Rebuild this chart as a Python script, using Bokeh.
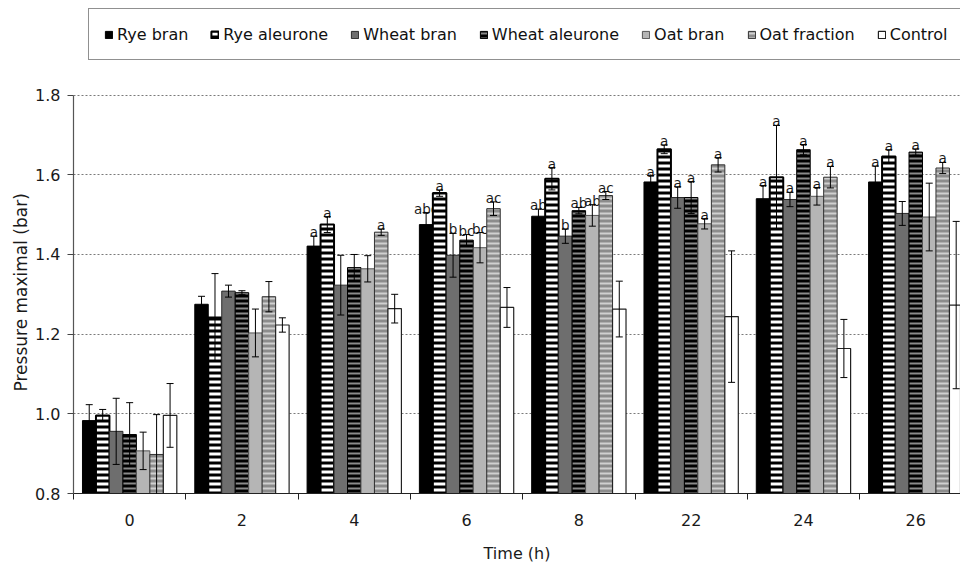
from bokeh.plotting import figure
from bokeh.models import (ColumnDataSource, Range1d, FixedTicker, Whisker, TeeHead,
                          Legend, LegendItem, PrintfTickFormatter, Title)
from bokeh.embed import file_html
from bokeh.resources import INLINE
from bokeh.core.properties import value

# ---------------- data ----------------
times = ["0", "2", "4", "6", "8", "22", "24", "26"]
series_names = ["Rye bran", "Rye aleurone", "Wheat bran", "Wheat aleurone",
                "Oat bran", "Oat fraction", "Control"]

rye_bran = [0.983, 1.275, 1.421, 1.475, 1.496, 1.582, 1.540, 1.582]
rye_bran_err = [0.040, 0.020, 0.025, 0.030, 0.018, 0.016, 0.033, 0.040]
rye_bran_sig = ["", "", "a", "abc", "ab", "a", "a", "a"]

rye_aleurone = [0.996, 1.242, 1.475, 1.554, 1.590, 1.664, 1.594, 1.646]
rye_aleurone_err = [0.015, 0.110, 0.020, 0.008, 0.028, 0.011, 0.130, 0.017]
rye_aleurone_sig = ["", "", "a", "a", "a", "a", "a", "a"]

wheat_bran = [0.956, 1.308, 1.323, 1.398, 1.446, 1.543, 1.538, 1.503]
wheat_bran_err = [0.083, 0.015, 0.075, 0.055, 0.018, 0.027, 0.018, 0.030]
wheat_bran_sig = ["", "", "", "b", "b", "a", "a", ""]

wheat_aleurone = [0.948, 1.304, 1.367, 1.436, 1.510, 1.543, 1.663, 1.657]
wheat_aleurone_err = [0.080, 0.005, 0.033, 0.014, 0.008, 0.040, 0.013, 0.008]
wheat_aleurone_sig = ["", "", "", "bc", "ab", "a", "a", "a"]

oat_bran = [0.907, 1.203, 1.364, 1.417, 1.498, 1.477, 1.546, 1.494]
oat_bran_err = [0.047, 0.060, 0.033, 0.038, 0.027, 0.013, 0.022, 0.085]
oat_bran_sig = ["", "", "", "bc", "ab", "a", "a", ""]

oat_fraction = [0.898, 1.294, 1.456, 1.515, 1.548, 1.625, 1.594, 1.617]
oat_fraction_err = [0.100, 0.038, 0.008, 0.017, 0.010, 0.018, 0.027, 0.014]
oat_fraction_sig = ["", "", "a", "ac", "ac", "a", "a", "a"]

control = [0.996, 1.223, 1.264, 1.267, 1.263, 1.244, 1.164, 1.273]
control_err = [0.080, 0.018, 0.036, 0.050, 0.070, 0.165, 0.073, 0.210]
control_sig = ["", "", "", "", "", "", "", ""]

y_ticks = [0.8, 1.0, 1.2, 1.4, 1.6, 1.8]

means = [rye_bran, rye_aleurone, wheat_bran, wheat_aleurone, oat_bran, oat_fraction, control]
errs = [rye_bran_err, rye_aleurone_err, wheat_bran_err, wheat_aleurone_err,
        oat_bran_err, oat_fraction_err, control_err]
sigs = [rye_bran_sig, rye_aleurone_sig, wheat_bran_sig, wheat_aleurone_sig,
        oat_bran_sig, oat_fraction_sig, control_sig]

# ---------------- styles ----------------
styles = [
    dict(fill_color="black", line_color="black", line_width=1),
    dict(fill_color="black", hatch_pattern="horizontal_line", hatch_color="white",
         hatch_scale=6, hatch_weight=3, line_color="black", line_width=2),
    dict(fill_color="#6e6e6e", line_color="#2a2a2a", line_width=1),
    dict(fill_color="black", hatch_pattern="horizontal_line", hatch_color="#8a8a8a",
         hatch_scale=5, hatch_weight=2, line_color="black", line_width=1),
    dict(fill_color="#b5b5b5", line_color="#555555", line_width=1),
    dict(fill_color="#8c8c8c", hatch_pattern="horizontal_line", hatch_color="#d0d0d0",
         hatch_scale=5, hatch_weight=2, line_color="#333333", line_width=1),
    dict(fill_color="white", line_color="#222222", line_width=1.2),
]

FONT = "DejaVu Sans"
W = 960
H = 565
LEFT = 73
BOTTOM = 70
PX_PER_UNIT_Y = 400.0
GROUP_PX = 112.3
BAR_W = 0.12

frame_h = H - BOTTOM
y_top = 0.8 + frame_h / PX_PER_UNIT_Y   # room above 1.8 for the legend

p = figure(width=W, height=H,
           x_range=Range1d(0, (W - LEFT) / GROUP_PX), y_range=Range1d(0.8, y_top),
           output_backend="svg", toolbar_location=None,
           min_border_left=LEFT, min_border_right=0, min_border_top=0,
           min_border_bottom=BOTTOM)
p.outline_line_color = None
p.background_fill_color = "white"

centers = [i + 0.5 for i in range(len(times))]
bounds = [float(i) for i in range(len(times) + 1)]

bar_renderers = []
for k, (m, e, s, st) in enumerate(zip(means, errs, sigs, styles)):
    xs = [c + (k - 3) * BAR_W for c in centers]
    src = ColumnDataSource(dict(x=xs, top=m,
                                upper=[a + b for a, b in zip(m, e)],
                                lower=[a - b for a, b in zip(m, e)]))
    r = p.vbar(x="x", top="top", bottom=0, width=BAR_W, source=src, **st)
    bar_renderers.append(r)
    wk = Whisker(source=src, base="x", upper="upper", lower="lower",
                 line_color="black", line_width=1, level="annotation",
                 upper_head=TeeHead(size=7, line_color="black", line_width=1),
                 lower_head=TeeHead(size=7, line_color="black", line_width=1))
    p.add_layout(wk)
    lx = [x for x, t in zip(xs, s) if t]
    ly = [a + b for a, b, t in zip(m, e, s) if t]
    lt = [t for t in s if t]
    if lt:
        p.text(x=lx, y=ly, text=lt, text_font=value(FONT), text_font_size="13.5px",
               text_align="center", text_baseline="alphabetic", y_offset=-4,
               text_color="#1a1a1a")

# x axis
p.xaxis.ticker = FixedTicker(ticks=centers, minor_ticks=bounds)
p.xaxis.major_label_overrides = {c: t for c, t in zip(centers, times)}
p.xaxis.major_tick_line_color = None
p.xaxis.major_tick_out = 0
p.xaxis.minor_tick_line_color = "#222222"
p.xaxis.minor_tick_in = 0
p.xaxis.minor_tick_out = 6
p.xaxis.axis_line_color = "#222222"
p.xaxis.axis_line_width = 1.2
p.xaxis.major_label_standoff = 14
p.xaxis.axis_label = "Time (h)"
p.xaxis.axis_label_standoff = 15

# y axis (line stops at 1.8)
p.yaxis.ticker = FixedTicker(ticks=y_ticks)
p.yaxis.bounds = (0.8, 1.8)
p.yaxis.formatter = PrintfTickFormatter(format="%.1f")
p.yaxis.minor_tick_line_color = None
p.yaxis.major_tick_in = 0
p.yaxis.major_tick_out = 6
p.yaxis.major_tick_line_color = "#444444"
p.yaxis.axis_line_color = "#555555"
p.yaxis.axis_line_width = 1.2
p.yaxis.major_label_standoff = 7

for ax in (p.xaxis, p.yaxis):
    ax.major_label_text_font = FONT
    ax.major_label_text_font_size = "16px"
    ax.major_label_text_color = "#1a1a1a"
    ax.axis_label_text_font = FONT
    ax.axis_label_text_font_size = "16px"
    ax.axis_label_text_font_style = "normal"
    ax.axis_label_text_color = "#1a1a1a"

# y-axis title, placed over the 0.8-1.8 part of the plot area
y_title = Title(text="Pressure maximal (bar)", align="left", offset=102,
                text_font=FONT, text_font_size="17px", text_font_style="normal",
                text_color="#1a1a1a", standoff=4)
p.add_layout(y_title, "left")

p.xgrid.visible = False
p.ygrid.ticker = FixedTicker(ticks=y_ticks)
p.ygrid.grid_line_color = "#7a7a7a"
p.ygrid.grid_line_dash = "2 2"
p.ygrid.grid_line_width = 1

# ---------------- legend (box runs off the right edge, like the reference) ----------------
items = [LegendItem(label=name, renderers=[r]) for name, r in zip(series_names, bar_renderers)]
legend = Legend(items=items, orientation="horizontal", location=(15, 433),
                glyph_width=9, glyph_height=9, label_standoff=4, spacing=22,
                padding=15, margin=0, label_height=20,
                border_line_color="#222222", border_line_width=1.5,
                background_fill_color="white", background_fill_alpha=1,
                label_text_font=FONT, label_text_font_size="16px",
                label_text_color="#111111")
p.add_layout(legend)

open("out.html", "w").write(file_html(p, INLINE))
